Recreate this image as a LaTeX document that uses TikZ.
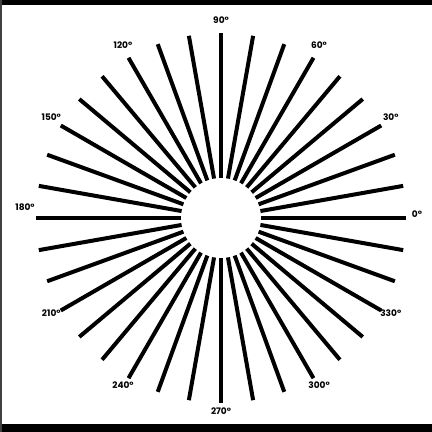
\documentclass[tikz,border=0pt]{standalone}
\usepackage{fontspec}
\setmainfont{Poppins}
\begin{document}
\begin{tikzpicture}[x=1pt, y=1pt, line cap=butt]
  % 统一设置：辐条与角度标注样式
  \tikzset{
    spoke/.style={line width=4pt, draw=black},
    angle label/.style={font=\fontsize{9}{11}\selectfont\bfseries, inner sep=0pt}
  }
  \useasboundingbox (0,0) rectangle (432,432);

  % =======================
  % 外框（上、下黑边与左侧细边）
  % =======================
  \fill[black] (0,427) rectangle (432,432);
  \fill[black] (0,0) rectangle (432,8);
  \fill[black!75] (0,0) rectangle (2,432);

  % =======================
  % 放射状辐条与角度
  % =======================
  \begin{scope}[shift={(221,214)}]
    \coordinate (O) at (0,0); % 中心
    % 每 10 度一条辐条，中间留出圆孔
    \foreach \a in {0,10,...,350}
      \draw[spoke] (\a:40) -- (\a:185);
    % 每 30 度标注一次角度（\dy 为竖直微调）
    \foreach \a/\dy in {0/4, 30/3, 60/3, 90/2, 120/3, 150/3,
                        180/11, 210/3, 240/3, 270/3, 300/3, 330/3}
      \node[angle label] (lab\a) at ([yshift=\dy pt]\a:196) {\a°};
  \end{scope}
\end{tikzpicture}
\end{document}
